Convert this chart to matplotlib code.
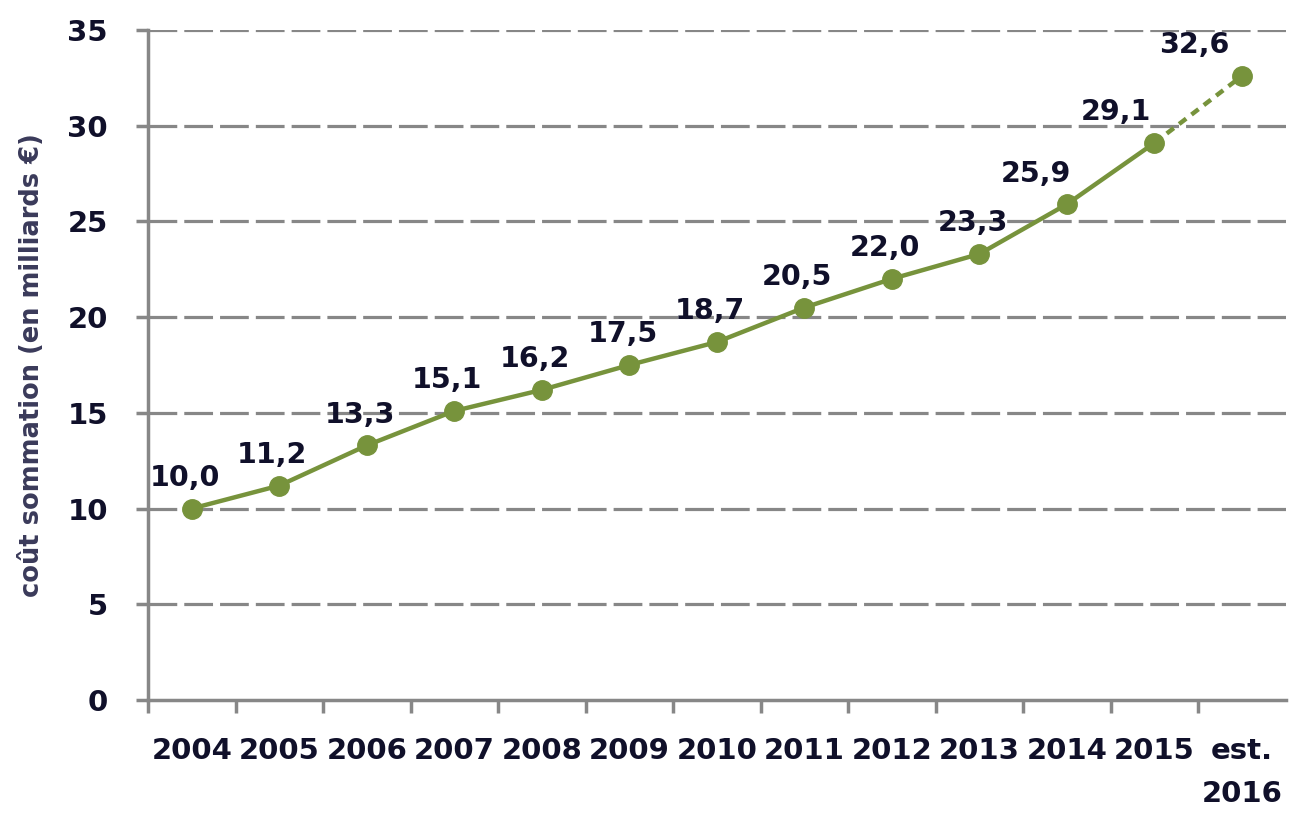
"""Cost line chart 2004 - est. 2016, with data labels."""
import numpy as np
import matplotlib
matplotlib.use("Agg")
import matplotlib.pyplot as plt
from matplotlib.ticker import FixedLocator

years = ["2004", "2005", "2006", "2007", "2008", "2009", "2010",
         "2011", "2012", "2013", "2014", "2015", "est.\n2016"]
cost = [10.0, 11.2, 13.3, 15.1, 16.2, 17.5, 18.7, 20.5, 22.0, 23.3, 25.9, 29.1, 32.6]
ylabel = "coût sommation (en milliards €)"

GREEN = "#77933c"
GREY = "#878787"
TXT = "#10102a"

plt.rcParams["font.family"] = ["DejaVu Sans"]
plt.rcParams["font.weight"] = "bold"

fig = plt.figure(figsize=(12.92, 8.18), dpi=100)
ax = fig.add_axes([0.1146, 0.1443, 0.8805, 0.819])

x = np.arange(len(cost))
# solid part up to 2015, dashed for the estimate
ax.plot(x[:-1], cost[:-1], color=GREEN, lw=3.2, marker="o", ms=14, zorder=3)
ax.plot(x[-2:], cost[-2:], color=GREEN, lw=3.2, ls=(0, (2, 1.5)), zorder=3)
ax.plot(x[-1:], cost[-1:], color=GREEN, marker="o", ms=14, zorder=3)

for xi, v in zip(x, cost):
    dx = -5 if xi < 10 else -22 - (xi - 10) * 6
    ax.annotate(f"{v:.1f}".replace(".", ","), (xi, v), xytext=(dx, 12),
                textcoords="offset points", ha="center", va="bottom",
                fontsize=20.5, color=TXT, fontweight="bold")

ax.set_xlim(-0.5, len(cost) - 0.5)
ax.set_ylim(0, 35)
ax.set_yticks(np.arange(0, 36, 5))
ax.set_xticks(x)
ax.set_xticklabels(years, linespacing=1.65)
ax.xaxis.set_minor_locator(FixedLocator(np.arange(-0.5, len(cost) - 1, 1.0)))

for y in range(5, 36, 5):
    ax.axhline(y, color=GREY, lw=2.3, ls=(0, (9, 2.2)), zorder=1)

for s in ["top", "right"]:
    ax.spines[s].set_visible(False)
for s in ["left", "bottom"]:
    ax.spines[s].set_color(GREY)
    ax.spines[s].set_linewidth(2.5)

ax.tick_params(axis="x", which="major", length=0, pad=27, labelsize=21, labelcolor=TXT)
ax.tick_params(axis="x", which="minor", length=9, width=2.5, color=GREY, direction="out")
ax.tick_params(axis="y", length=9, width=2.5, color=GREY, pad=20, labelsize=21, labelcolor=TXT)

ax.set_ylabel(ylabel, fontsize=18.5, color="#3a3a5a", fontweight="bold", labelpad=16)

plt.savefig("out.png", dpi=100)
